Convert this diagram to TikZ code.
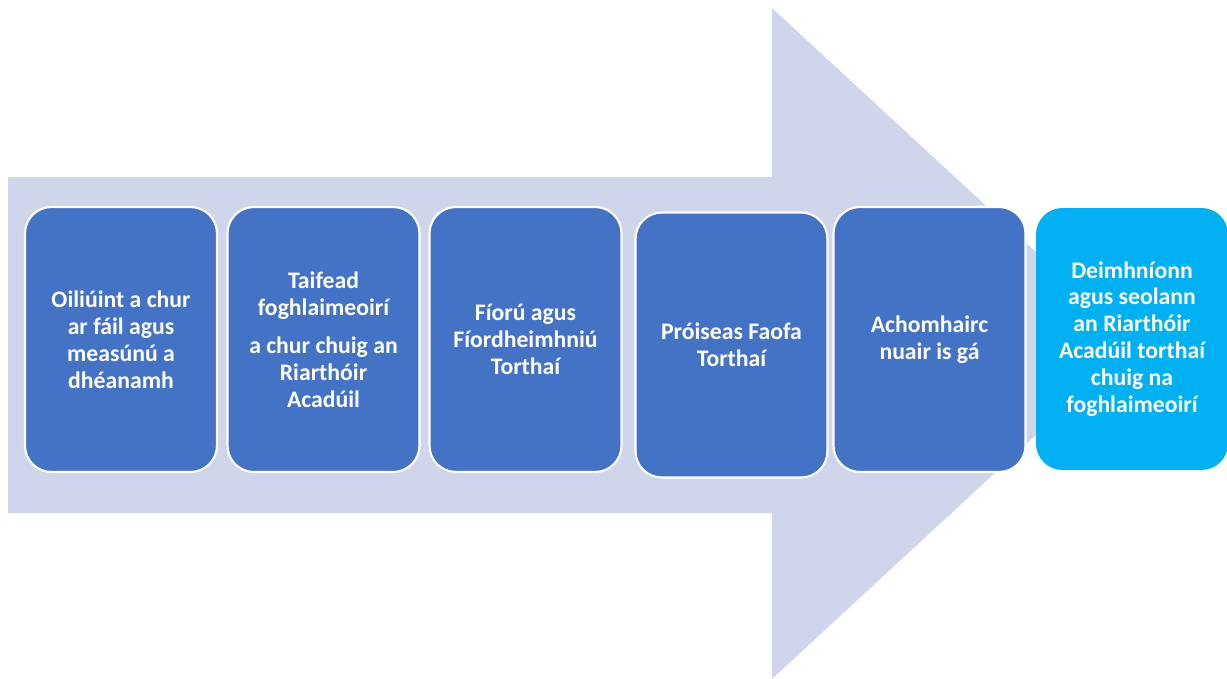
\documentclass[tikz,border=0pt]{standalone}
\usepackage{fontspec}
\setmainfont{Carlito}
\definecolor{arrowbg}{RGB}{207,213,234}
\definecolor{stepblue}{RGB}{68,114,196}
\definecolor{lastcyan}{RGB}{0,176,240}
\begin{document}
\begin{tikzpicture}[x=0.02cm,y=-0.02cm,
	stepbox/.style={rectangle,rounded corners=15pt,draw=white,line width=1.2pt,fill=stepblue,
		minimum width=3.84cm,minimum height=5.3cm,inner sep=2pt,align=center,text=white,
		font=\fontsize{13.5}{15.3}\selectfont\bfseries},
	lastbox/.style={stepbox,fill=lastcyan,draw=none,minimum height=5.24cm}]
	\useasboundingbox (0,0) rectangle (1227,679);
	% big background arrow
	\fill[arrowbg] (8,177) -- (772,177) -- (772,8) -- (1135,343.5) -- (772,679) -- (772,513) -- (8,513) -- cycle;
	% steps
	\node[stepbox] (s1) at (121,339.5) {Oiliúint a chur\\ar fáil agus\\measúnú a\\dhéanamh};
	\node[stepbox] (s2) at (323.5,339.5) {Taifead\\foghlaimeoirí\\[0.22cm]a chur chuig an\\Riarthóir\\Acadúil};
	\node[stepbox] (s3) at (525.5,339.5) {Fíorú agus\\Fíordheimhniú\\Torthaí};
	\node[stepbox] (s4) at (731.5,345) {Próiseas Faofa\\Torthaí};
	\node[stepbox] (s5) at (929.5,339.5) {Achomhairc\\nuair is gá};
	\node[lastbox] (s6) at (1132,339) {Deimhníonn\\agus seolann\\an Riarthóir\\Acadúil torthaí\\chuig na\\foghlaimeoirí};
\end{tikzpicture}
\end{document}
